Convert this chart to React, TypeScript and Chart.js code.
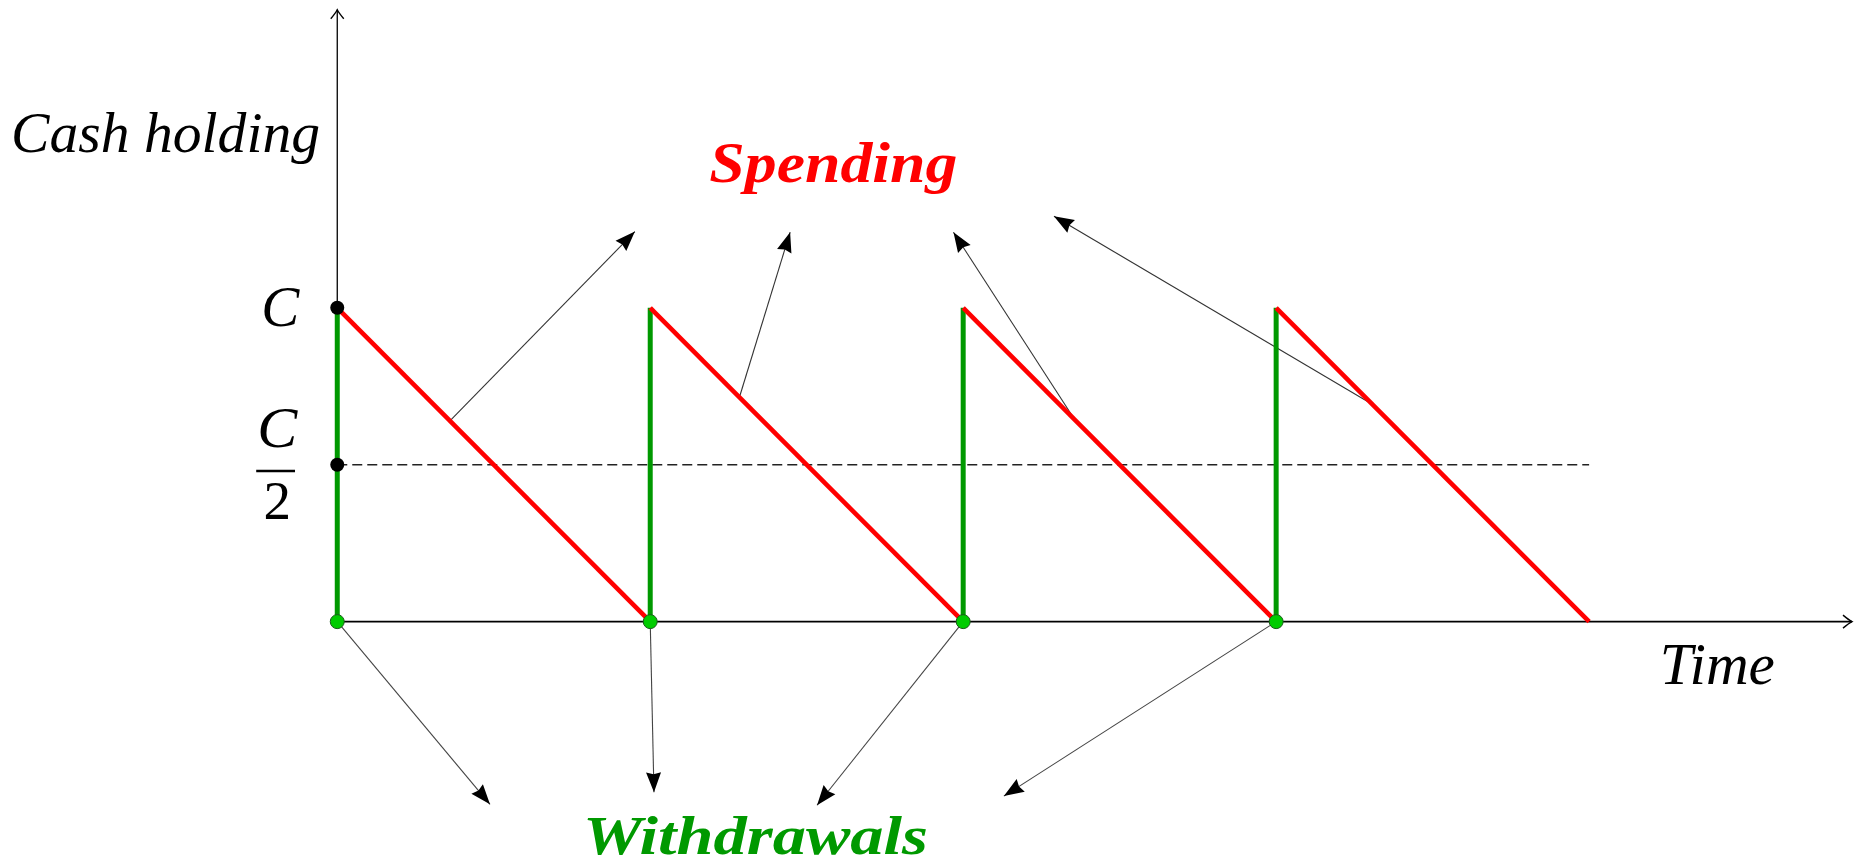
import { useEffect, useRef } from "react";
import { Chart, registerables } from "chart.js";

Chart.register(...registerables);

// ---- data (time in withdrawal periods, cash in units of C) ----
const withdrawalTimes = [0, 1, 2, 3];
const cashPeak = [1, 1, 1, 1]; // C after each withdrawal
const spendingEndTimes = [1, 2, 3, 4]; // cash reaches 0
const averageCash = 0.5; // C/2
const averageSpan = [0, 4];
const timeAxisEnd = 4.84;
const cashAxisTop = 1.95;

// annotation arrows (start on a line -> tip)
const spendStartT = [0.36, 1.285, 2.356, 3.307];
const spendStartV = [0.64, 0.715, 0.644, 0.693];
const spendTipT = [0.951, 1.447, 1.969, 2.29];
const spendTipV = [1.243, 1.241, 1.241, 1.292];
const drawTipT = [0.488, 1.012, 1.533, 2.13];
const drawTipV = [-0.582, -0.544, -0.585, -0.556];

// text labels
const labelTexts = ["Cash holding", "C", "C", "2", "Spending", "Withdrawals", "Time"];
const labelT = [-0.055, -0.182, -0.192, -0.192, 1.189, 0.785, 4.226];
const labelV = [1.498, 0.941, 0.556, 0.327, 1.402, -0.741, -0.2];
const labelAlign = ["right", "center", "center", "center", "left", "left", "left"];
const labelWidth = [309, 38, 40, 0, 248, 345, 115];
const labelFont = [
  "italic 58px 'Liberation Serif'",
  "italic 57px 'Liberation Serif'",
  "italic 56px 'Liberation Serif'",
  "55px 'Liberation Serif'",
  "bold italic 56px 'Liberation Serif'",
  "bold italic 55px 'Liberation Serif'",
  "italic 60px 'Liberation Serif'",
];
const labelColor = ["#000", "#000", "#000", "#000", "#ff0000", "#009900", "#000"];
const fractionBarT = [-0.259, -0.135];
const fractionBarV = 0.48;

const RED = "#ff0000";
const GREEN = "#009900";

function seg(x0: number, y0: number, x1: number, y1: number) {
  return [
    { x: x0, y: y0 },
    { x: x1, y: y1 },
  ];
}

const arrowPlugin = {
  id: "arrowHeads",
  afterDatasetsDraw(chart: any) {
    const ctx = chart.ctx;
    chart.data.datasets.forEach((ds: any, i: number) => {
      if (!ds.arrow) return;
      const meta = chart.getDatasetMeta(i);
      const p0 = meta.data[0];
      const p1 = meta.data[1];
      const ang = Math.atan2(p1.y - p0.y, p1.x - p0.x);
      ctx.save();
      ctx.translate(p1.x, p1.y);
      ctx.rotate(ang);
      if (ds.arrow === "filled") {
        ctx.fillStyle = "#000";
        ctx.beginPath();
        ctx.moveTo(0, 0);
        ctx.lineTo(-20, -7.5);
        ctx.lineTo(-18, 0);
        ctx.lineTo(-20, 7.5);
        ctx.closePath();
        ctx.fill();
      } else {
        ctx.strokeStyle = "#000";
        ctx.lineWidth = 1.4;
        ctx.beginPath();
        ctx.moveTo(-9, -6.5);
        ctx.quadraticCurveTo(-3, -1.5, 0, 0);
        ctx.quadraticCurveTo(-3, 1.5, -9, 6.5);
        ctx.stroke();
      }
      ctx.restore();
    });
  },
};

const textPlugin = {
  id: "textLabels",
  afterDatasetsDraw(chart: any) {
    const ctx = chart.ctx;
    const xs = chart.scales.x;
    const ys = chart.scales.y;
    labelTexts.forEach((txt, i) => {
      ctx.save();
      ctx.font = labelFont[i];
      ctx.fillStyle = labelColor[i];
      ctx.textBaseline = "alphabetic";
      ctx.textAlign = "left";
      const w = ctx.measureText(txt).width;
      const sx = labelWidth[i] ? labelWidth[i] / w : 1;
      const px = xs.getPixelForValue(labelT[i]);
      const py = ys.getPixelForValue(labelV[i]);
      ctx.translate(px, py);
      ctx.scale(sx, 1);
      const ox = labelAlign[i] === "right" ? -w : labelAlign[i] === "center" ? -w / 2 : 0;
      ctx.fillText(txt, ox, 0);
      ctx.restore();
    });
  },
};

export default function App() {
  const ref = useRef<HTMLCanvasElement | null>(null);
  useEffect(() => {
    if (!ref.current) return;
    const datasets: any[] = [];
    const line = (data: any[], color: string, width: number, extra: any = {}) =>
      datasets.push({
        data,
        showLine: true,
        borderColor: color,
        borderWidth: width,
        pointRadius: 0,
        pointHoverRadius: 0,
        fill: false,
        tension: 0,
        clip: false,
        ...extra,
      });

    // axes
    line(seg(0, 0, timeAxisEnd, 0), "#000", 1.6, { arrow: "open" });
    line(seg(0, 0, 0, cashAxisTop), "#000", 1.3, { arrow: "open" });
    // average cash
    line(seg(averageSpan[0], averageCash, averageSpan[1], averageCash), "#222", 1.3, {
      borderDash: [10, 5],
    });
    // fraction bar of C/2
    line(seg(fractionBarT[0], fractionBarV, fractionBarT[1], fractionBarV), "#000", 2.6);
    // annotation arrows
    spendStartT.forEach((t, i) =>
      line(seg(t, spendStartV[i], spendTipT[i], spendTipV[i]), "#333", 1.1, { arrow: "filled" })
    );
    withdrawalTimes.forEach((t, i) =>
      line(seg(t, 0, drawTipT[i], drawTipV[i]), "#444", 1.1, { arrow: "filled" })
    );
    // withdrawals (green verticals)
    withdrawalTimes.forEach((t, i) => line(seg(t, 0, t, cashPeak[i]), GREEN, 5));
    // spending (red diagonals)
    withdrawalTimes.forEach((t, i) => line(seg(t, cashPeak[i], spendingEndTimes[i], 0), RED, 4.6));
    // dots
    datasets.push({
      data: withdrawalTimes.map((t) => ({ x: t, y: 0 })),
      showLine: false,
      pointRadius: 7,
      pointBackgroundColor: "#00cc00",
      pointBorderColor: "#1a5a1a",
      pointBorderWidth: 1,
      clip: false,
    });
    datasets.push({
      data: [
        { x: 0, y: cashPeak[0] },
        { x: 0, y: averageCash },
      ],
      showLine: false,
      pointRadius: 7,
      pointBackgroundColor: "#000",
      pointBorderColor: "#000",
      pointBorderWidth: 0,
      clip: false,
    });
    const n = datasets.length;
    datasets.forEach((d, i) => (d.order = n - i));

    const chart = new Chart(ref.current, {
      type: "scatter",
      data: { datasets },
      options: {
        animation: false,
        responsive: false,
        devicePixelRatio: 1,
        events: [],
        layout: { padding: { left: 24.3, right: 1.9, top: 9.7, bottom: 6.1 } },
        scales: {
          x: { type: "linear", min: -1, max: 4.84, display: false },
          y: { type: "linear", min: -0.75, max: 1.95, display: false },
        },
        plugins: { legend: { display: false }, tooltip: { enabled: false } },
      },
      plugins: [arrowPlugin, textPlugin],
    } as any);
    return () => chart.destroy();
  }, []);

  return (
    <div style={{ position: "absolute", left: 0, top: 0, width: 1860, height: 865, background: "#fff" }}>
      <canvas ref={ref} width={1860} height={865} style={{ width: 1860, height: 865, display: "block" }} />
    </div>
  );
}
